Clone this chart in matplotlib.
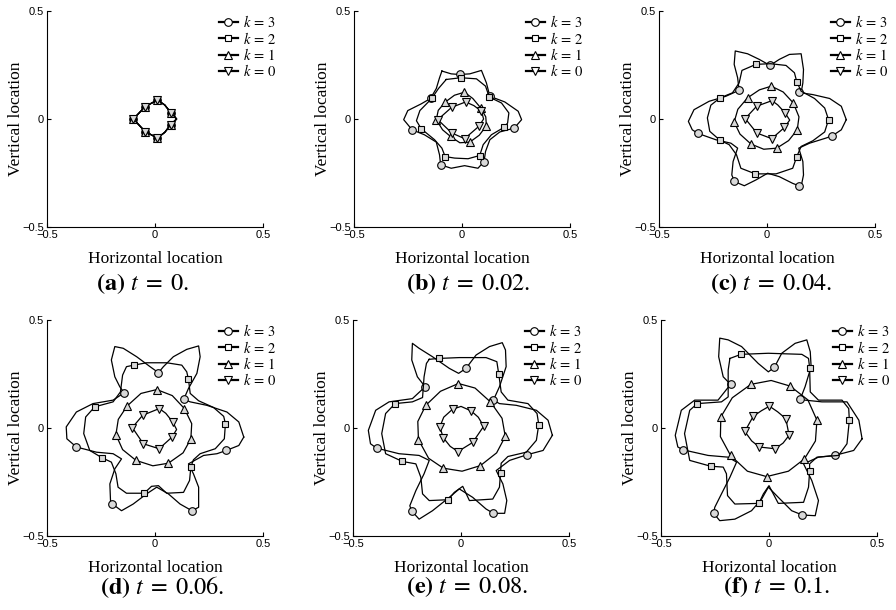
import matplotlib
matplotlib.use("Agg")
import matplotlib.pyplot as plt
from matplotlib.lines import Line2D

plt.rcParams['font.family'] = 'Liberation Serif'
plt.rcParams['mathtext.fontset'] = 'stix'

# (a) t = 0: all four curves coincide
a_line = [(-0.100, 0.000), (-0.046, 0.057), (0.011, 0.088), (0.045, 0.065), (0.073, 0.030),
          (0.100, 0.000), (0.073, -0.026), (0.045, -0.062), (0.011, -0.088), (-0.046, -0.058)]
a_marks = [(-0.100, 0.000), (-0.046, 0.057), (0.011, 0.087), (0.073, 0.028),
           (0.073, -0.026), (0.011, -0.087), (-0.046, -0.058)]

# (b) t = 0.02
b_k3 = [(-0.093, 0.222), (-0.050, 0.209), (-0.011, 0.206), (0.036, 0.209), (0.090, 0.225),
        (0.113, 0.167), (0.129, 0.105), (0.198, 0.079), (0.260, 0.036), (0.276, -0.003),
        (0.242, -0.042), (0.175, -0.060), (0.129, -0.096), (0.109, -0.150), (0.102, -0.197),
        (0.074, -0.228), (0.012, -0.216), (-0.050, -0.228), (-0.099, -0.212), (-0.104, -0.166),
        (-0.119, -0.107), (-0.174, -0.073), (-0.231, -0.050), (-0.270, -0.003), (-0.251, 0.039),
        (-0.189, 0.070), (-0.146, 0.095), (-0.119, 0.141), (-0.104, 0.191)]
b_k3_marks = [(-0.011, 0.209), (-0.143, 0.095), (0.129, 0.105), (-0.231, -0.050),
              (0.242, -0.042), (-0.099, -0.212), (0.102, -0.197)]
b_k2 = [(-0.073, 0.183), (-0.006, 0.191), (0.067, 0.186), (0.109, 0.152), (0.126, 0.102),
        (0.183, 0.074), (0.217, 0.028), (0.211, -0.019), (0.194, -0.039), (0.136, -0.073),
        (0.098, -0.119), (0.082, -0.169), (0.028, -0.184), (-0.034, -0.181), (-0.078, -0.174),
        (-0.093, -0.135), (-0.127, -0.096), (-0.189, -0.045), (-0.211, -0.008), (-0.195, 0.039),
        (-0.140, 0.095), (-0.109, 0.141)]
b_k2_marks = [(-0.006, 0.191), (-0.140, 0.095), (0.126, 0.102), (-0.189, -0.045),
              (0.194, -0.039), (-0.078, -0.174), (0.082, -0.169)]
b_k1 = [(0.011, 0.124), (-0.035, 0.110), (-0.078, 0.078), (-0.110, 0.040), (-0.119, -0.003),
        (-0.090, -0.050), (-0.053, -0.081), (-0.010, -0.110), (0.036, -0.107), (0.080, -0.075),
        (0.113, -0.031), (0.110, 0.010), (0.087, 0.051), (0.050, 0.095)]
b_k1_marks = [(0.011, 0.124), (-0.078, 0.078), (-0.119, -0.003), (-0.053, -0.081),
              (0.036, -0.107), (0.113, -0.031), (0.087, 0.051)]
b_k0 = [(0.017, 0.079), (-0.048, 0.054), (-0.112, -0.003), (-0.047, -0.065), (0.012, -0.091),
        (0.078, -0.034), (0.100, 0.000), (0.090, 0.036), (0.055, 0.062)]
b_k0_marks = [(0.017, 0.079), (-0.048, 0.054), (-0.112, -0.003), (-0.047, -0.065),
              (0.012, -0.091), (0.078, -0.034), (0.090, 0.036)]

# (c) t = 0.04
c_k3 = [(0.367, -0.003), (0.344, 0.059), (0.290, 0.095), (0.212, 0.113), (0.158, 0.121),
        (0.166, 0.167), (0.169, 0.229), (0.158, 0.302), (0.104, 0.299), (0.057, 0.276),
        (0.014, 0.248), (-0.036, 0.276), (-0.090, 0.302), (-0.147, 0.315), (-0.152, 0.253),
        (-0.136, 0.191), (-0.129, 0.133), (-0.191, 0.105), (-0.268, 0.082), (-0.338, 0.043),
        (-0.364, -0.011), (-0.346, -0.050), (-0.319, -0.067), (-0.237, -0.096), (-0.167, -0.112),
        (-0.136, -0.135), (-0.157, -0.197), (-0.163, -0.259), (-0.150, -0.290), (-0.105, -0.309),
        (-0.051, -0.282), (0.003, -0.251), (0.057, -0.267), (0.119, -0.298), (0.158, -0.313),
        (0.169, -0.259), (0.166, -0.197), (0.147, -0.135), (0.197, -0.112), (0.274, -0.088),
        (0.302, -0.078), (0.344, -0.050)]
c_k3_marks = [(0.014, 0.248), (-0.129, 0.133), (0.150, 0.124), (-0.319, -0.067),
              (0.302, -0.078), (-0.153, -0.287), (0.150, -0.309)]
c_k2 = [(-0.051, 0.253), (0.016, 0.256), (0.088, 0.248), (0.127, 0.214), (0.138, 0.172),
        (0.158, 0.129), (0.220, 0.095), (0.267, 0.051), (0.285, -0.003), (0.267, -0.060),
        (0.212, -0.101), (0.158, -0.127), (0.138, -0.174), (0.119, -0.228), (0.042, -0.254),
        (-0.054, -0.254), (-0.121, -0.228), (-0.141, -0.166), (-0.175, -0.119), (-0.217, -0.099),
        (-0.265, -0.057), (-0.276, 0.005), (-0.260, 0.064), (-0.217, 0.098), (-0.160, 0.121),
        (-0.129, 0.167), (-0.116, 0.225)]
c_k2_marks = [(-0.051, 0.253), (0.138, 0.172), (-0.217, 0.098), (0.285, -0.003),
              (-0.217, -0.099), (0.138, -0.174), (-0.054, -0.254)]
c_k1 = [(0.020, 0.152), (-0.035, 0.135), (-0.090, 0.098), (-0.135, 0.045), (-0.152, -0.014),
        (-0.125, -0.070), (-0.074, -0.116), (-0.015, -0.140), (0.045, -0.135), (0.100, -0.100),
        (0.140, -0.050), (0.148, 0.010), (0.122, 0.074), (0.075, 0.125)]
c_k1_marks = [(0.020, 0.152), (-0.090, 0.098), (-0.152, -0.014), (-0.074, -0.116),
              (0.045, -0.135), (0.140, -0.050), (0.122, 0.074)]
c_k0 = [(0.023, 0.085), (-0.048, 0.059), (-0.101, 0.002), (-0.047, -0.065), (0.022, -0.091),
        (0.081, -0.039), (0.105, -0.005), (0.084, 0.028), (0.050, 0.065)]
c_k0_marks = [(0.023, 0.085), (-0.048, 0.059), (-0.101, 0.002), (-0.047, -0.065),
              (0.022, -0.091), (0.081, -0.039), (0.084, 0.028)]

# (d) t = 0.06
d_k3 = [(0.411, -0.042), (0.388, 0.028), (0.333, 0.074), (0.240, 0.105), (0.163, 0.121),
        (0.133, 0.133), (0.155, 0.183), (0.194, 0.253), (0.209, 0.330), (0.202, 0.380),
        (0.147, 0.364), (0.085, 0.330), (0.039, 0.284), (0.016, 0.256), (-0.023, 0.284),
        (-0.085, 0.330), (-0.147, 0.369), (-0.186, 0.377), (-0.202, 0.315), (-0.186, 0.237),
        (-0.163, 0.191), (-0.143, 0.163), (-0.194, 0.129), (-0.287, 0.113), (-0.364, 0.074),
        (-0.411, 0.005), (-0.408, -0.050), (-0.364, -0.088), (-0.271, -0.112), (-0.194, -0.119),
        (-0.155, -0.143), (-0.186, -0.189), (-0.209, -0.259), (-0.206, -0.336), (-0.197, -0.352),
        (-0.155, -0.383), (-0.101, -0.352), (-0.039, -0.305), (0.008, -0.274), (0.062, -0.305),
        (0.116, -0.352), (0.171, -0.383), (0.202, -0.367), (0.202, -0.274), (0.178, -0.212),
        (0.155, -0.166), (0.225, -0.127), (0.287, -0.119), (0.330, -0.104), (0.388, -0.081)]
d_k3_marks = [(0.016, 0.256), (-0.143, 0.163), (0.133, 0.133), (-0.364, -0.088),
              (0.330, -0.104), (-0.197, -0.352), (0.171, -0.383)]
d_k2 = [(-0.098, 0.291), (-0.039, 0.302), (0.054, 0.302), (0.124, 0.291), (0.147, 0.260),
        (0.155, 0.225), (0.163, 0.160), (0.202, 0.126), (0.271, 0.095), (0.318, 0.054),
        (0.326, 0.020), (0.321, -0.050), (0.279, -0.096), (0.209, -0.119), (0.178, -0.147),
        (0.166, -0.181), (0.160, -0.243), (0.132, -0.298), (0.054, -0.302), (0.016, -0.267),
        (-0.016, -0.270), (-0.050, -0.302), (-0.132, -0.302), (-0.171, -0.274), (-0.181, -0.212),
        (-0.202, -0.158), (-0.245, -0.138), (-0.302, -0.104), (-0.330, -0.026), (-0.321, 0.051),
        (-0.279, 0.098), (-0.194, 0.121), (-0.160, 0.167), (-0.150, 0.245), (-0.132, 0.284)]
d_k2_marks = [(-0.098, 0.291), (0.155, 0.225), (-0.279, 0.098), (0.326, 0.020),
              (-0.245, -0.138), (0.166, -0.181), (-0.050, -0.302)]
d_k1 = [(0.008, 0.178), (-0.065, 0.160), (-0.129, 0.102), (-0.170, 0.040), (-0.181, -0.031),
        (-0.150, -0.100), (-0.088, -0.150), (-0.010, -0.175), (0.062, -0.163), (0.130, -0.115),
        (0.166, -0.050), (0.170, 0.020), (0.136, 0.090), (0.080, 0.150)]
d_k1_marks = [(0.008, 0.178), (-0.129, 0.102), (-0.181, -0.031), (-0.088, -0.150),
              (0.062, -0.163), (0.166, -0.050), (0.136, 0.090)]
d_k0 = [(0.020, 0.090), (-0.057, 0.059), (-0.105, 0.002), (-0.054, -0.073), (0.019, -0.096),
        (0.079, -0.042), (0.100, -0.007), (0.082, 0.028), (0.050, 0.068)]
d_k0_marks = [(0.020, 0.090), (-0.057, 0.059), (-0.105, 0.002), (-0.054, -0.073),
              (0.019, -0.096), (0.079, -0.042), (0.082, 0.028)]

# (e) t = 0.08
e_k3 = [(0.423, -0.034), (0.403, 0.036), (0.349, 0.082), (0.256, 0.105), (0.178, 0.113),
        (0.150, 0.129), (0.178, 0.191), (0.209, 0.284), (0.206, 0.361), (0.191, 0.395),
        (0.132, 0.377), (0.070, 0.338), (0.023, 0.276), (-0.011, 0.253), (-0.054, 0.276),
        (-0.132, 0.330), (-0.194, 0.369), (-0.225, 0.392), (-0.228, 0.315), (-0.202, 0.237),
        (-0.166, 0.191), (-0.225, 0.136), (-0.333, 0.121), (-0.395, 0.082), (-0.429, -0.011),
        (-0.419, -0.073), (-0.391, -0.093), (-0.287, -0.119), (-0.194, -0.127), (-0.147, -0.150),
        (-0.171, -0.212), (-0.209, -0.290), (-0.237, -0.360), (-0.229, -0.383), (-0.194, -0.422),
        (-0.132, -0.383), (-0.054, -0.321), (-0.008, -0.282), (0.054, -0.321), (0.116, -0.375),
        (0.150, -0.395), (0.202, -0.395), (0.212, -0.336), (0.194, -0.259), (0.163, -0.197),
        (0.225, -0.150), (0.305, -0.124), (0.380, -0.104)]
e_k3_marks = [(0.023, 0.276), (-0.166, 0.191), (0.150, 0.129), (-0.391, -0.093),
              (0.305, -0.124), (-0.229, -0.383), (0.150, -0.395)]
e_k2 = [(-0.147, 0.318), (-0.104, 0.322), (-0.008, 0.326), (0.116, 0.326), (0.166, 0.307),
        (0.175, 0.248), (0.186, 0.167), (0.217, 0.129), (0.310, 0.113), (0.352, 0.067),
        (0.360, 0.016), (0.349, -0.057), (0.302, -0.112), (0.217, -0.132), (0.186, -0.163),
        (0.183, -0.208), (0.178, -0.274), (0.147, -0.329), (0.039, -0.336), (0.008, -0.270),
        (-0.031, -0.298), (-0.059, -0.332), (-0.147, -0.336), (-0.178, -0.305), (-0.186, -0.228),
        (-0.209, -0.166), (-0.271, -0.155), (-0.349, -0.119), (-0.367, -0.026), (-0.349, 0.067),
        (-0.305, 0.113), (-0.225, 0.121), (-0.178, 0.141), (-0.171, 0.237), (-0.160, 0.299)]
e_k2_marks = [(-0.104, 0.322), (0.175, 0.248), (-0.305, 0.113), (0.360, 0.016),
              (-0.271, -0.155), (0.183, -0.208), (-0.059, -0.332)]
e_k1 = [(-0.012, 0.206), (-0.095, 0.170), (-0.163, 0.105), (-0.200, 0.030), (-0.197, -0.054),
        (-0.150, -0.140), (-0.082, -0.186), (0.005, -0.200), (0.090, -0.174), (0.165, -0.115),
        (0.205, -0.039), (0.190, 0.045), (0.136, 0.121), (0.065, 0.185)]
e_k1_marks = [(-0.012, 0.206), (-0.163, 0.105), (-0.197, -0.054), (-0.082, -0.186),
              (0.090, -0.174), (0.205, -0.039), (0.136, 0.121)]
e_k0 = [(0.047, 0.079), (0.000, 0.100), (-0.039, 0.087), (-0.080, 0.050), (-0.098, 0.005),
        (-0.082, -0.045), (-0.050, -0.085), (-0.014, -0.109), (0.054, -0.067), (0.105, 0.008),
        (0.080, 0.050)]
e_k0_marks = [(0.047, 0.079), (-0.039, 0.087), (-0.098, 0.005), (-0.082, -0.045),
              (-0.014, -0.109), (0.054, -0.067), (0.105, 0.008)]

# (f) t = 0.1
f_k3 = [(0.431, -0.050), (0.416, 0.036), (0.361, 0.121), (0.245, 0.121), (0.167, 0.129),
        (0.144, 0.132), (0.167, 0.191), (0.195, 0.284), (0.191, 0.353), (0.175, 0.408),
        (0.121, 0.392), (0.059, 0.346), (0.025, 0.281), (-0.003, 0.260), (-0.050, 0.299),
        (-0.127, 0.377), (-0.189, 0.408), (-0.228, 0.416), (-0.233, 0.330), (-0.212, 0.237),
        (-0.178, 0.202), (-0.236, 0.129), (-0.344, 0.129), (-0.406, 0.082), (-0.434, -0.034),
        (-0.422, -0.088), (-0.398, -0.101), (-0.282, -0.127), (-0.189, -0.135), (-0.150, -0.158),
        (-0.181, -0.228), (-0.220, -0.305), (-0.251, -0.367), (-0.256, -0.395), (-0.228, -0.429),
        (-0.158, -0.422), (-0.081, -0.383), (-0.034, -0.329), (-0.003, -0.274), (0.043, -0.321),
        (0.105, -0.383), (0.155, -0.403), (0.214, -0.406), (0.229, -0.336), (0.198, -0.243),
        (0.160, -0.166), (0.229, -0.135), (0.304, -0.127), (0.392, -0.104)]
f_k3_marks = [(0.025, 0.281), (-0.178, 0.202), (0.144, 0.132), (-0.398, -0.101),
              (0.304, -0.127), (-0.256, -0.395), (0.155, -0.403)]
f_k2 = [(-0.181, 0.322), (-0.130, 0.341), (-0.003, 0.346), (0.152, 0.341), (0.183, 0.322),
        (0.188, 0.279), (0.191, 0.167), (0.229, 0.129), (0.338, 0.129), (0.369, 0.090),
        (0.372, 0.036), (0.361, -0.073), (0.322, -0.127), (0.222, -0.135), (0.188, -0.166),
        (0.188, -0.200), (0.183, -0.274), (0.160, -0.344), (0.043, -0.349), (0.000, -0.267),
        (-0.026, -0.305), (-0.047, -0.349), (-0.158, -0.352), (-0.192, -0.313), (-0.197, -0.212),
        (-0.212, -0.181), (-0.270, -0.177), (-0.367, -0.150), (-0.391, -0.026), (-0.367, 0.082),
        (-0.332, 0.113), (-0.220, 0.121), (-0.189, 0.144), (-0.189, 0.268)]
f_k2_marks = [(-0.130, 0.341), (0.188, 0.279), (-0.332, 0.113), (0.372, 0.036),
              (-0.270, -0.177), (0.188, -0.200), (-0.047, -0.349)]
f_k1 = [(0.098, 0.194), (0.010, 0.220), (-0.084, 0.202), (-0.170, 0.140), (-0.223, 0.051),
        (-0.225, -0.040), (-0.178, -0.127), (-0.100, -0.200), (-0.011, -0.225), (0.090, -0.200),
        (0.164, -0.143), (0.215, -0.060), (0.222, 0.036), (0.180, 0.130)]
f_k1_marks = [(0.098, 0.194), (-0.084, 0.202), (-0.223, 0.051), (-0.178, -0.127),
              (-0.011, -0.225), (0.164, -0.143), (0.222, 0.036)]
f_k0 = [(0.002, 0.101), (-0.035, 0.080), (-0.073, 0.054), (-0.112, -0.016), (-0.080, -0.060),
        (-0.045, -0.088), (0.028, -0.096), (0.065, -0.070), (0.093, -0.034), (0.078, 0.043),
        (0.040, 0.075)]
f_k0_marks = [(0.002, 0.101), (-0.073, 0.054), (-0.112, -0.016), (-0.045, -0.088),
              (0.028, -0.096), (0.093, -0.034), (0.078, 0.043)]

k_labels = [r'$k\,=\,3$', r'$k\,=\,2$', r'$k\,=\,1$', r'$k\,=\,0$']
k_markers = ['o', 's', '^', 'v']
k_msize = [5.5, 4.5, 6, 6]
panel_tags = ['a', 'b', 'c', 'd', 'e', 'f']
panel_times = ['0', '0.02', '0.04', '0.06', '0.08', '0.1']
ticks = [-0.5, 0, 0.5]
tick_text = ['\u22120.5', '0', '0.5']

curves = [
    [(a_line, a_marks)] * 4,
    [(b_k3, b_k3_marks), (b_k2, b_k2_marks), (b_k1, b_k1_marks), (b_k0, b_k0_marks)],
    [(c_k3, c_k3_marks), (c_k2, c_k2_marks), (c_k1, c_k1_marks), (c_k0, c_k0_marks)],
    [(d_k3, d_k3_marks), (d_k2, d_k2_marks), (d_k1, d_k1_marks), (d_k0, d_k0_marks)],
    [(e_k3, e_k3_marks), (e_k2, e_k2_marks), (e_k1, e_k1_marks), (e_k0, e_k0_marks)],
    [(f_k3, f_k3_marks), (f_k2, f_k2_marks), (f_k1, f_k1_marks), (f_k0, f_k0_marks)],
]

W, H = 896, 610
ax_left = [47, 354, 659, 47, 353, 661]
ax_top = [11, 11, 11, 320, 320, 320]
ax_size = 216
cap_x = [142, 468, 771, 162, 467, 776]
cap_y = [284, 284, 284, 587, 587, 587]

fig = plt.figure(figsize=(W / 100, H / 100), dpi=100)

for i in range(6):
    ax = fig.add_axes([ax_left[i] / W, 1 - (ax_top[i] + ax_size) / H, ax_size / W, ax_size / H])
    for j, (line, marks) in enumerate(curves[i]):
        pts = line + [line[0]]
        ax.plot([p[0] for p in pts], [p[1] for p in pts], color='k', lw=0.9)
        ax.plot([p[0] for p in marks], [p[1] for p in marks], ls='none',
                marker=k_markers[j], ms=k_msize[j], mfc='0.85', mec='k', mew=0.8)
    ax.set_xlim(-0.5, 0.5)
    ax.set_ylim(-0.5, 0.5)
    ax.set_xticks(ticks)
    ax.set_yticks(ticks)
    ax.set_xticklabels(tick_text, family='Liberation Sans', fontsize=8)
    ax.set_yticklabels(tick_text, family='Liberation Sans', fontsize=8)
    ax.tick_params(direction='in', length=3, width=0.8, pad=2)
    for s in ['top', 'right']:
        ax.spines[s].set_visible(False)
    for s in ['left', 'bottom']:
        ax.spines[s].set_linewidth(0.8)
    ax.set_xlabel('Horizontal location', fontsize=12.5)
    ax.set_ylabel('Vertical location', fontsize=12.5)
    ax.xaxis.set_label_coords(0.5, -0.11)
    ax.yaxis.set_label_coords(-0.105, 0.5)

    handles = [Line2D([], [], color='k', lw=1.6, marker=k_markers[j], ms=k_msize[j],
                      mfc='white', mec='k', mew=0.8) for j in range(4)]
    ax.legend(handles, k_labels, loc='upper left', bbox_to_anchor=(0.795, 0.985),
              frameon=False, fontsize=10.5, handlelength=1.3, handletextpad=0.35,
              labelspacing=0.02, borderpad=0, borderaxespad=0)

    fig.text(cap_x[i] / W, 1 - cap_y[i] / H,
             r'$\mathbf{(%s)}\ t\;=\;%s.$' % (panel_tags[i], panel_times[i]),
             ha='center', va='center', fontsize=17.5)

fig.savefig('out.png', dpi=100)
